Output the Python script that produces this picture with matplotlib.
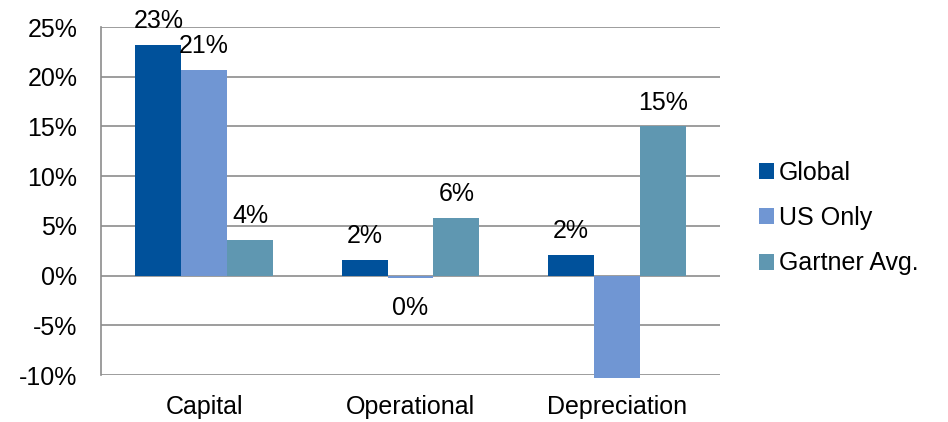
import numpy as np
import matplotlib
matplotlib.use("Agg")
import matplotlib.pyplot as plt
from matplotlib.ticker import FuncFormatter

plt.rcParams['font.family'] = ['Liberation Sans', 'DejaVu Sans']

# data (percent)
categories = ["Capital", "Operational", "Depreciation"]
series_names = ["Global", "US Only", "Gartner Avg."]
global_vals = [23.2, 1.6, 2.1]
us_vals = [20.7, -0.2, -10.3]
gartner_vals = [3.6, 5.8, 15.0]
# data labels as shown (the -10% one is not shown)
global_labels = ["23%", "2%", "2%"]
us_labels = ["21%", "0%", ""]
gartner_labels = ["4%", "6%", "15%"]

colors = ["#00519B", "#7096D3", "#5F97B1"]

fig = plt.figure(figsize=(9.48, 4.22), dpi=100)
ax = fig.add_axes([0.1065, 0.111, 0.653, 0.825])

x = np.arange(len(categories))
w = 1 / 4.5
series = [global_vals, us_vals, gartner_vals]
labels = [global_labels, us_labels, gartner_labels]

for i, (vals, labs) in enumerate(zip(series, labels)):
    pos = x + (i - 1) * w
    ax.bar(pos, vals, width=w, color=colors[i], label=series_names[i],
           zorder=3, clip_on=False)
    for px, v, lab in zip(pos, vals, labs):
        if not lab:
            continue
        off = 12 if v >= 0 else -27
        ax.annotate(lab, (px, v), xytext=(0, off), textcoords="offset points",
                    ha="center", va="baseline", fontsize=18, color="black")

ax.set_xlim(-0.5, 2.5)
ax.set_ylim(-10, 25)
ax.set_yticks(np.arange(-10, 26, 5))
ax.yaxis.set_major_formatter(FuncFormatter(lambda v, p: f"{v:.0f}%"))
ax.set_xticks(x)
ax.set_xticklabels(categories)
ax.tick_params(axis="both", length=0, labelsize=18)
ax.tick_params(axis="y", pad=17)
ax.tick_params(axis="x", pad=14)

ax.grid(axis="y", color="#8C8C8C", linewidth=1.2, zorder=0)
for s in ["top", "right", "bottom"]:
    ax.spines[s].set_visible(False)
ax.spines["left"].set_color("#8C8C8C")
ax.spines["left"].set_linewidth(1.2)

leg = fig.legend(loc="center left", bbox_to_anchor=(0.777, 0.483), frameon=False,
                 fontsize=18, handlelength=0.6, handleheight=0.6,
                 handletextpad=0.2, labelspacing=0.85)

fig.savefig("out.png", dpi=100)
